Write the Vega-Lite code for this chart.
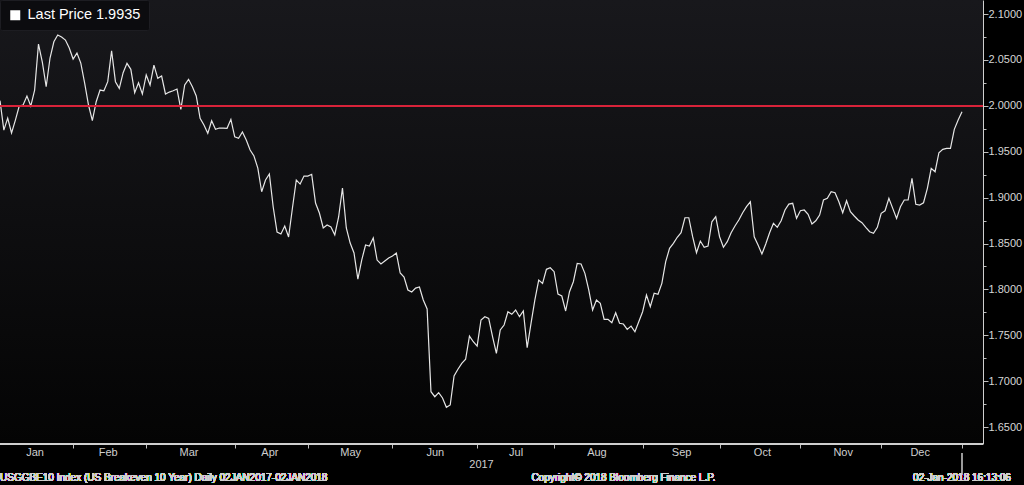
{
  "$schema": "https://vega.github.io/schema/vega-lite/v6.json",
  "width": 983,
  "height": 444,
  "autosize": {"type": "none"},
  "padding": {"left": 0, "top": 0, "right": 41, "bottom": 41},
  "background": "#000000",
  "config": {
    "view": {"stroke": null, "fill": {"gradient": "linear", "x1": 0, "y1": 0, "x2": 0, "y2": 1, "stops": [{"offset": 0, "color": "#18181c"}, {"offset": 1, "color": "#040404"}]}},
    "font": "Liberation Sans"
  },
  "resolve": {"axis": {"x": "independent", "y": "independent"}},
  "data": {"values": [
    {"date":"2017-01-03","price":2.0056},{"date":"2017-01-04","price":1.9736},{"date":"2017-01-05","price":1.9867},{"date":"2017-01-06","price":1.9704},{"date":"2017-01-09","price":1.9845},{"date":"2017-01-10","price":1.9998},{"date":"2017-01-11","price":2.0009},{"date":"2017-01-12","price":2.0107},{"date":"2017-01-13","price":1.9998},{"date":"2017-01-17","price":2.0172},{"date":"2017-01-18","price":2.0673},{"date":"2017-01-19","price":2.0477},{"date":"2017-01-20","price":2.0208},{"date":"2017-01-23","price":2.0521},{"date":"2017-01-24","price":2.0698},{"date":"2017-01-25","price":2.0771},{"date":"2017-01-26","price":2.0749},{"date":"2017-01-27","price":2.0717},{"date":"2017-01-30","price":2.0630},{"date":"2017-01-31","price":2.0510},
    {"date":"2017-02-01","price":2.0575},{"date":"2017-02-02","price":2.0466},{"date":"2017-02-03","price":2.0248},{"date":"2017-02-06","price":2.0009},{"date":"2017-02-07","price":1.9838},{"date":"2017-02-08","price":2.0045},{"date":"2017-02-09","price":2.0172},{"date":"2017-02-10","price":2.0164},{"date":"2017-02-13","price":2.0263},{"date":"2017-02-14","price":2.0600},{"date":"2017-02-15","price":2.0263},{"date":"2017-02-16","price":2.0191},{"date":"2017-02-17","price":2.0361},{"date":"2017-02-21","price":2.0463},{"date":"2017-02-22","price":2.0398},{"date":"2017-02-23","price":2.0143},{"date":"2017-02-24","price":2.0252},{"date":"2017-02-27","price":2.0129},{"date":"2017-02-28","price":2.0336},
    {"date":"2017-03-01","price":2.0227},{"date":"2017-03-02","price":2.0444},{"date":"2017-03-03","price":2.0300},{"date":"2017-03-06","price":2.0325},{"date":"2017-03-07","price":2.0129},{"date":"2017-03-08","price":2.0150},{"date":"2017-03-09","price":2.0164},{"date":"2017-03-10","price":2.0183},{"date":"2017-03-13","price":1.9962},{"date":"2017-03-14","price":2.0227},{"date":"2017-03-15","price":2.0289},{"date":"2017-03-16","price":2.0208},{"date":"2017-03-17","price":2.0107},{"date":"2017-03-20","price":1.9864},{"date":"2017-03-21","price":1.9791},{"date":"2017-03-22","price":1.9700},{"date":"2017-03-23","price":1.9838},{"date":"2017-03-24","price":1.9744},{"date":"2017-03-27","price":1.9758},{"date":"2017-03-28","price":1.9758},{"date":"2017-03-29","price":1.9755},{"date":"2017-03-30","price":1.9853},{"date":"2017-03-31","price":1.9663},
    {"date":"2017-04-03","price":1.9646},{"date":"2017-04-04","price":1.9715},{"date":"2017-04-05","price":1.9627},{"date":"2017-04-06","price":1.9519},{"date":"2017-04-07","price":1.9453},{"date":"2017-04-10","price":1.9322},{"date":"2017-04-11","price":1.9064},{"date":"2017-04-12","price":1.9192},{"date":"2017-04-13","price":1.9257},{"date":"2017-04-17","price":1.8898},{"date":"2017-04-18","price":1.8625},{"date":"2017-04-19","price":1.8604},{"date":"2017-04-20","price":1.8691},{"date":"2017-04-21","price":1.8571},{"date":"2017-04-24","price":1.8887},{"date":"2017-04-25","price":1.9192},{"date":"2017-04-26","price":1.9148},{"date":"2017-04-27","price":1.9235},{"date":"2017-04-28","price":1.9235},
    {"date":"2017-05-01","price":1.9254},{"date":"2017-05-02","price":1.8941},{"date":"2017-05-03","price":1.8832},{"date":"2017-05-04","price":1.8669},{"date":"2017-05-05","price":1.8702},{"date":"2017-05-08","price":1.8680},{"date":"2017-05-09","price":1.8593},{"date":"2017-05-10","price":1.8789},{"date":"2017-05-11","price":1.9105},{"date":"2017-05-12","price":1.8669},{"date":"2017-05-15","price":1.8505},{"date":"2017-05-16","price":1.8397},{"date":"2017-05-17","price":1.8113},{"date":"2017-05-18","price":1.8320},{"date":"2017-05-19","price":1.8484},{"date":"2017-05-22","price":1.8473},{"date":"2017-05-23","price":1.8560},{"date":"2017-05-24","price":1.8320},{"date":"2017-05-25","price":1.8277},{"date":"2017-05-26","price":1.8309},{"date":"2017-05-30","price":1.8342},{"date":"2017-05-31","price":1.8364},
    {"date":"2017-06-01","price":1.8397},{"date":"2017-06-02","price":1.8179},{"date":"2017-06-05","price":1.8135},{"date":"2017-06-06","price":1.7994},{"date":"2017-06-07","price":1.7972},{"date":"2017-06-08","price":1.8015},{"date":"2017-06-09","price":1.8026},{"date":"2017-06-12","price":1.7885},{"date":"2017-06-13","price":1.7787},{"date":"2017-06-14","price":1.6886},{"date":"2017-06-15","price":1.6831},{"date":"2017-06-16","price":1.6875},{"date":"2017-06-19","price":1.6817},{"date":"2017-06-20","price":1.6716},{"date":"2017-06-21","price":1.6741},{"date":"2017-06-22","price":1.7057},{"date":"2017-06-23","price":1.7130},{"date":"2017-06-26","price":1.7195},{"date":"2017-06-27","price":1.7239},{"date":"2017-06-28","price":1.7492},{"date":"2017-06-29","price":1.7430},{"date":"2017-06-30","price":1.7383},
    {"date":"2017-07-03","price":1.7667},{"date":"2017-07-05","price":1.7703},{"date":"2017-07-06","price":1.7685},{"date":"2017-07-07","price":1.7485},{"date":"2017-07-10","price":1.7304},{"date":"2017-07-11","price":1.7558},{"date":"2017-07-12","price":1.7612},{"date":"2017-07-13","price":1.7757},{"date":"2017-07-14","price":1.7729},{"date":"2017-07-17","price":1.7776},{"date":"2017-07-18","price":1.7703},{"date":"2017-07-19","price":1.7765},{"date":"2017-07-20","price":1.7365},{"date":"2017-07-21","price":1.7631},{"date":"2017-07-24","price":1.7885},{"date":"2017-07-25","price":1.8102},{"date":"2017-07-26","price":1.8066},{"date":"2017-07-27","price":1.8219},{"date":"2017-07-28","price":1.8236},{"date":"2017-07-31","price":1.8193},
    {"date":"2017-08-01","price":1.7950},{"date":"2017-08-02","price":1.7928},{"date":"2017-08-03","price":1.7765},{"date":"2017-08-04","price":1.7975},{"date":"2017-08-07","price":1.8084},{"date":"2017-08-08","price":1.8284},{"date":"2017-08-09","price":1.8277},{"date":"2017-08-10","price":1.8175},{"date":"2017-08-11","price":1.7994},{"date":"2017-08-14","price":1.7776},{"date":"2017-08-15","price":1.7885},{"date":"2017-08-16","price":1.7849},{"date":"2017-08-17","price":1.7674},{"date":"2017-08-18","price":1.7674},{"date":"2017-08-21","price":1.7637},{"date":"2017-08-22","price":1.7746},{"date":"2017-08-23","price":1.7631},{"date":"2017-08-24","price":1.7623},{"date":"2017-08-25","price":1.7565},{"date":"2017-08-28","price":1.7601},{"date":"2017-08-29","price":1.7539},{"date":"2017-08-30","price":1.7648},{"date":"2017-08-31","price":1.7757},
    {"date":"2017-09-01","price":1.7939},{"date":"2017-09-05","price":1.7812},{"date":"2017-09-06","price":1.7958},{"date":"2017-09-07","price":1.7947},{"date":"2017-09-08","price":1.8066},{"date":"2017-09-11","price":1.8302},{"date":"2017-09-12","price":1.8448},{"date":"2017-09-13","price":1.8502},{"date":"2017-09-14","price":1.8568},{"date":"2017-09-15","price":1.8618},{"date":"2017-09-18","price":1.8781},{"date":"2017-09-19","price":1.8781},{"date":"2017-09-20","price":1.8574},{"date":"2017-09-21","price":1.8400},{"date":"2017-09-22","price":1.8527},{"date":"2017-09-25","price":1.8459},{"date":"2017-09-26","price":1.8473},{"date":"2017-09-27","price":1.8737},{"date":"2017-09-28","price":1.8792},{"date":"2017-09-29","price":1.8574},
    {"date":"2017-10-02","price":1.8459},{"date":"2017-10-03","price":1.8520},{"date":"2017-10-04","price":1.8618},{"date":"2017-10-05","price":1.8691},{"date":"2017-10-06","price":1.8756},{"date":"2017-10-10","price":1.8835},{"date":"2017-10-11","price":1.8901},{"date":"2017-10-12","price":1.8955},{"date":"2017-10-13","price":1.8574},{"date":"2017-10-16","price":1.8484},{"date":"2017-10-17","price":1.8386},{"date":"2017-10-18","price":1.8495},{"date":"2017-10-19","price":1.8618},{"date":"2017-10-20","price":1.8720},{"date":"2017-10-23","price":1.8676},{"date":"2017-10-24","price":1.8748},{"date":"2017-10-25","price":1.8865},{"date":"2017-10-26","price":1.8930},{"date":"2017-10-27","price":1.8938},{"date":"2017-10-30","price":1.8774},{"date":"2017-10-31","price":1.8857},
    {"date":"2017-11-01","price":1.8865},{"date":"2017-11-02","price":1.8818},{"date":"2017-11-03","price":1.8712},{"date":"2017-11-06","price":1.8748},{"date":"2017-11-07","price":1.8810},{"date":"2017-11-08","price":1.8974},{"date":"2017-11-09","price":1.8992},{"date":"2017-11-10","price":1.9064},{"date":"2017-11-13","price":1.9053},{"date":"2017-11-14","price":1.8955},{"date":"2017-11-15","price":1.8835},{"date":"2017-11-16","price":1.8966},{"date":"2017-11-17","price":1.8846},{"date":"2017-11-20","price":1.8800},{"date":"2017-11-21","price":1.8756},{"date":"2017-11-22","price":1.8727},{"date":"2017-11-24","price":1.8676},{"date":"2017-11-27","price":1.8629},{"date":"2017-11-28","price":1.8611},{"date":"2017-11-29","price":1.8676},{"date":"2017-11-30","price":1.8829},
    {"date":"2017-12-01","price":1.8857},{"date":"2017-12-04","price":1.8992},{"date":"2017-12-05","price":1.8883},{"date":"2017-12-06","price":1.8774},{"date":"2017-12-07","price":1.8901},{"date":"2017-12-08","price":1.8974},{"date":"2017-12-11","price":1.8974},{"date":"2017-12-12","price":1.9210},{"date":"2017-12-13","price":1.8927},{"date":"2017-12-14","price":1.8919},{"date":"2017-12-15","price":1.8944},{"date":"2017-12-18","price":1.9101},{"date":"2017-12-19","price":1.9319},{"date":"2017-12-20","price":1.9282},{"date":"2017-12-21","price":1.9489},{"date":"2017-12-22","price":1.9526},{"date":"2017-12-26","price":1.9537},{"date":"2017-12-27","price":1.9537},{"date":"2017-12-28","price":1.9744},{"date":"2017-12-29","price":1.9845},
    {"date":"2018-01-02","price":1.9935}
  ]},
  "layer": [
    {
      "mark": {"type": "line", "strokeWidth": 1.2, "interpolate": "linear"},
      "encoding": {
        "x": {
          "field": "date", "type": "ordinal",
          "scale": {"type": "point", "range": [0, 962], "padding": 0},
          "axis": {
            "orient": "bottom",
            "title": "2017",
            "titleColor": "#cfcfcf", "titleFontSize": 11, "titleFontWeight": "normal", "titlePadding": 1,
            "domain": false,
            "values": ["2017-01-17","2017-01-31","2017-02-13","2017-02-28","2017-03-15","2017-03-31","2017-04-13","2017-04-28","2017-05-15","2017-05-31","2017-06-15","2017-06-30","2017-07-17","2017-07-31","2017-08-15","2017-08-31","2017-09-15","2017-09-29","2017-10-17","2017-10-31","2017-11-15","2017-11-30","2017-12-14","2018-01-02"],
            "labelExpr": "indexof(['2017-01-17','2017-02-13','2017-03-15','2017-04-13','2017-05-15','2017-06-15','2017-07-17','2017-08-15','2017-09-15','2017-10-17','2017-11-15','2017-12-14'], datum.value) >= 0 ? ['Jan','Feb','Mar','Apr','May','Jun','Jul','Aug','Sep','Oct','Nov','Dec'][toNumber(slice(datum.value, 5, 7)) - 1] : ''",
            "labelAngle": 0, "labelColor": "#cfcfcf", "labelFontSize": 11, "labelPadding": -2, "labelOverlap": false,
            "tickSize": 4,
            "tickColor": {"condition": {"test": "indexof(['2017-01-31','2017-02-28','2017-03-31','2017-04-28','2017-05-31','2017-06-30','2017-07-31','2017-08-31','2017-09-29','2017-10-31','2017-11-30','2018-01-02'], datum.value) < 0", "value": "transparent"}, "value": "#bdbdbd"},
            "grid": false
          }
        },
        "y": {
          "field": "price", "type": "quantitative",
          "scale": {"domain": [1.6316, 2.1153], "nice": false, "zero": false},
          "axis": {
            "orient": "right", "title": null, "grid": false,
            "values": [1.65,1.675,1.7,1.725,1.75,1.775,1.8,1.825,1.85,1.875,1.9,1.925,1.95,1.975,2.0,2.025,2.05,2.075,2.1],
            "labelExpr": "round(datum.value * 1000) % 50 === 0 ? format(datum.value, '.4f') : ''",
            "labelColor": "#d6d6d6", "labelFontSize": 11, "labelPadding": 0,
            "domainColor": "#cfcfcf", "domainWidth": 1,
            "tickColor": "#bdbdbd",
            "tickSize": {"condition": {"test": "round(datum.value * 1000) % 50 === 0", "value": 5}, "value": 3}
          }
        },
        "color": {
          "datum": "Last Price 1.9935",
          "scale": {"range": ["#e6e6e6"]},
          "legend": {
            "orient": "top-left", "offset": 0, "title": null,
            "padding": 8, "fillColor": "#0c0c0f", "strokeColor": "#1d1d22", "cornerRadius": 2,
            "symbolType": "square", "symbolSize": 100, "symbolStrokeWidth": 0,
            "labelColor": "#ffffff", "labelFontSize": 14.5, "labelOffset": 5,
            "encode": {"symbols": {"update": {"fill": {"value": "#ffffff"}, "stroke": {"value": "#ffffff"}, "shape": {"value": "square"}}}}
          }
        }
      }
    },
    {
      "mark": {"type": "rule", "color": "#d8233a", "strokeWidth": 1.6},
      "encoding": {"y": {"datum": 2.0, "type": "quantitative", "axis": null}}
    },
    {
      "mark": {"type": "rule", "color": "#cfcfcf", "strokeWidth": 1},
      "encoding": {"y": {"datum": 1.6316, "type": "quantitative", "axis": null}}
    },
    {
      "mark": {"type": "rule", "color": "#9a9a9a", "strokeWidth": 1},
      "encoding": {
        "x": {"datum": "2018-01-02", "type": "ordinal", "axis": null},
        "y": {"datum": 1.6218, "type": "quantitative", "axis": null},
        "y2": {"datum": 1.5985}
      }
    },
    {
      "mark": {"type": "text", "align": "left", "baseline": "middle", "color": "#d0d0d0", "fontSize": 10},
      "encoding": {
        "x": {"datum": "2017-01-03", "type": "ordinal", "axis": null},
        "y": {"datum": 1.5946, "type": "quantitative", "axis": null},
        "text": {"value": "USGGBE10 Index (US Breakeven 10 Year)  Daily 02JAN2017-02JAN2018"}
      }
    },
    {
      "mark": {"type": "text", "align": "center", "baseline": "middle", "color": "#d0d0d0", "fontSize": 10},
      "encoding": {
        "x": {"datum": "2017-08-24", "type": "ordinal", "axis": null},
        "y": {"datum": 1.5946, "type": "quantitative", "axis": null},
        "text": {"value": "Copyright© 2018 Bloomberg Finance L.P."}
      }
    },
    {
      "mark": {"type": "text", "align": "center", "baseline": "middle", "color": "#d0d0d0", "fontSize": 10},
      "encoding": {
        "x": {"datum": "2018-01-02", "type": "ordinal", "axis": null},
        "y": {"datum": 1.5946, "type": "quantitative", "axis": null},
        "text": {"value": "02-Jan-2018 16:13:06"}
      }
    }
  ]
}
